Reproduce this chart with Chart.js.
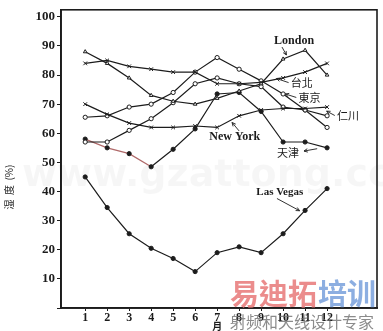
<!DOCTYPE html>
<html>
<head>
<meta charset="utf-8">
<script src="https://cdn.jsdelivr.net/npm/chart.js@4/dist/chart.umd.min.js"></script>
<style>
  html, body { margin: 0; padding: 0; background: #fff; }
</style>
</head>
<body>
<canvas id="humidity-chart" width="383" height="331"></canvas>
<script>
// monthly relative humidity (%)
const months = [1, 2, 3, 4, 5, 6, 7, 8, 9, 10, 11, 12];
const yTicks = [0, 10, 20, 30, 40, 50, 60, 70, 80, 90, 100];

const london   = [88, 84, 79, 73, 71, 70, 72, 74.5, 77, 85.5, 88.5, 80];
const taipei   = [84, 85, 83, 82, 81, 81, 77, 77, 77.5, 79, 81, 84];
const newYork  = [70, 66.5, 63.5, 62, 62, 62.5, 62, 66, 68, 68.5, 68.5, 69];
const tokyo    = [65.5, 66, 69, 70, 74, 81, 86, 82, 78, 73.5, 68, 62];
const incheon  = [57, 57, 61, 65, 70.5, 77, 79, 77, 76, 69, 68, 66];
const tianjin  = [58, 55, 53, 48.5, 54.5, 61.5, 73.5, 74, 67.5, 57, 57, 55];
const lasVegas = [45, 34.5, 25.5, 20.5, 17, 12.5, 19, 21, 19, 25.5, 33.5, 41];

const INK = "#1c1c1c";
const serif = "'Liberation Serif', 'DejaVu Serif', serif";
const cjk = "'Noto Sans CJK TC', 'Noto Sans CJK SC', sans-serif";

function toPoints(values) {
  return months.map((m, i) => ({ x: m, y: values[i] }));
}

function series(label, values, style, fill) {
  return {
    label: label,
    data: toPoints(values),
    borderColor: INK,
    borderWidth: 1.2,
    pointStyle: style,
    pointRadius: style === "crossRot" ? 2.6 : 2.1,
    pointBorderWidth: 1,
    pointBorderColor: INK,
    pointBackgroundColor: fill ? INK : "#fff",
    tension: 0,
  };
}

// city names with little arrows, placed in data units
const notes = [
  { text: "London",   font: "bold 12px " + serif, x: 10.5,  y: 91.8, from: [9.95, 89.6], to: [10.15, 86.9] },
  { text: "台北",     font: "11px " + cjk,        x: 10.85, y: 77.4, from: [10.25, 77.4], to: [9.7, 78.8] },
  { text: "東京",     font: "11px " + cjk,        x: 11.2,  y: 72.3, from: [10.6, 72.3], to: [10.1, 73.5] },
  { text: "仁川",     font: "11px " + cjk,        x: 12.95, y: 66.1, from: [12.35, 66.1], to: [11.98, 67.6] },
  { text: "New York", font: "bold 12px " + serif, x: 7.8,   y: 58.6, from: [8.0, 60.8], to: [7.68, 63.7] },
  { text: "天津",     font: "11px " + cjk,        x: 10.22, y: 53.2, from: [11.55, 54.7], to: [10.95, 53.9] },
  { text: "Las Vegas",font: "bold 11px " + serif, x: 9.85,  y: 39.8, from: [9.72, 37.6], to: [10.75, 33.4] },
];

function arrow(ctx, x1, y1, x2, y2) {
  const a = Math.atan2(y2 - y1, x2 - x1);
  ctx.beginPath();
  ctx.moveTo(x1, y1);
  ctx.lineTo(x2, y2);
  ctx.moveTo(x2 - 4 * Math.cos(a - 0.45), y2 - 4 * Math.sin(a - 0.45));
  ctx.lineTo(x2, y2);
  ctx.lineTo(x2 - 4 * Math.cos(a + 0.45), y2 - 4 * Math.sin(a + 0.45));
  ctx.stroke();
}

const decorPlugin = {
  id: "decor",
  beforeDatasetsDraw(chart) {
    const ctx = chart.ctx;
    ctx.save();
    // faint site watermark from the scan
    ctx.fillStyle = "rgba(0,0,0,0.035)";
    ctx.font = "bold 38px 'DejaVu Sans', sans-serif";
    ctx.textBaseline = "middle";
    ctx.fillText("www.gzattong.com", 22, 176);
    ctx.restore();
  },
  afterDraw(chart) {
    const ctx = chart.ctx;
    const area = chart.chartArea;
    const xs = chart.scales.x;
    const ys = chart.scales.y;
    ctx.save();

    // frame round the plot
    ctx.strokeStyle = INK;
    ctx.lineWidth = 1.6;
    ctx.strokeRect(area.left, area.top, area.right - area.left, area.bottom - area.top);

    // city labels
    ctx.fillStyle = INK;
    ctx.lineWidth = 0.9;
    ctx.textAlign = "center";
    ctx.textBaseline = "middle";
    notes.forEach((n) => {
      ctx.font = n.font;
      ctx.fillText(n.text, xs.getPixelForValue(n.x), ys.getPixelForValue(n.y));
      arrow(ctx,
        xs.getPixelForValue(n.from[0]), ys.getPixelForValue(n.from[1]),
        xs.getPixelForValue(n.to[0]), ys.getPixelForValue(n.to[1]));
    });

    // axis titles
    ctx.font = "bold 10px " + cjk;
    ctx.fillText("月", xs.getPixelForValue(7), 326);
    ctx.save();
    ctx.translate(9, 187);
    ctx.rotate(-Math.PI / 2);
    ctx.font = "10px " + cjk;
    ctx.fillText("湿  度  (%)", 0, 0);
    ctx.restore();

    // logo stamped over the corner
    ctx.textAlign = "left";
    ctx.font = "bold 29px " + cjk;
    ctx.fillStyle = "rgba(232,120,120,0.85)";
    ctx.fillText("易迪拓", 230, 294);
    ctx.fillStyle = "rgba(120,160,220,0.85)";
    ctx.fillText("培训", 318, 294);
    ctx.font = "16px " + cjk;
    ctx.fillStyle = "rgba(110,110,110,0.8)";
    ctx.fillText("射频和天线设计专家", 230, 322);
    ctx.restore();
  },
};

const ctx = document.getElementById("humidity-chart").getContext("2d");

const tianjinSet = series("天津", tianjin, "circle", true);
// the first stretch of this line came out reddish in the scan
tianjinSet.segment = {
  borderColor: (c) => (c.p0DataIndex < 3 ? "#b06a6a" : INK),
};

new Chart(ctx, {
  type: "line",
  data: {
    datasets: [
      series("London", london, "triangle", false),
      series("台北", taipei, "crossRot", false),
      series("New York", newYork, "crossRot", false),
      series("東京", tokyo, "circle", false),
      series("仁川", incheon, "circle", false),
      tianjinSet,
      series("Las Vegas", lasVegas, "circle", true),
    ],
  },
  options: {
    responsive: false,
    animation: false,
    layout: { padding: { top: 9, right: 6, left: 0, bottom: 0 } },
    plugins: {
      legend: { display: false },
      tooltip: { enabled: false },
    },
    scales: {
      x: {
        type: "linear",
        min: -0.1,
        max: 14.27,
        afterFit: (scale) => { scale.height = 23; },
        afterBuildTicks: (scale) => {
          scale.ticks = months.map((m) => ({ value: m }));
        },
        border: { color: INK, width: 1.8 },
        grid: { drawOnChartArea: false, color: INK, tickLength: 3 },
        ticks: {
          color: INK,
          padding: 0,
          autoSkip: false,
          maxRotation: 0,
          font: { family: serif, size: 12, weight: "bold" },
        },
      },
      y: {
        min: 0,
        max: 102.4,
        afterFit: (scale) => { scale.width = 61; },
        afterBuildTicks: (scale) => {
          scale.ticks = yTicks.map((v) => ({ value: v }));
        },
        border: { color: INK, width: 1.8 },
        grid: { drawOnChartArea: false, color: INK, tickLength: 4 },
        ticks: {
          color: INK,
          padding: 2,
          font: { family: serif, size: 13, weight: "bold" },
          callback: (v) => (v === 0 ? "" : v),
        },
      },
    },
  },
  plugins: [decorPlugin],
});
</script>
</body>
</html>
